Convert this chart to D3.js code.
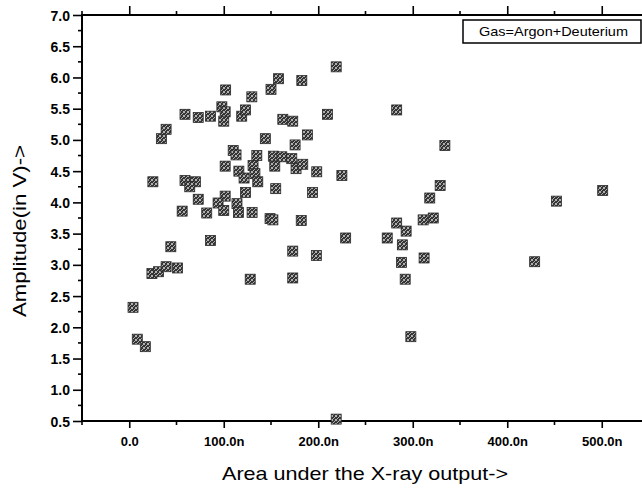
<!DOCTYPE html>
<html>
<head>
<meta charset="utf-8">
<script src="https://cdn.jsdelivr.net/npm/d3@7"></script>
<style>
  body { margin: 0; background: #fff; }
  svg { display: block; font-family: "Liberation Sans", Arial, sans-serif; }
</style>
</head>
<body>
<script>
// area under the X-ray output, in nano units
const areaN = [
  4, 8.5, 17, 24, 31, 39, 44, 51, 56, 25,
  34, 39, 59, 73, 86, 59, 70, 64, 73, 98,
  101.5, 100, 102, 119, 123, 110, 113, 101.5, 116, 121.5,
  123, 101.5, 94, 100, 114, 115.5, 130, 82, 149, 86,
  128, 131, 133, 136, 135, 129.7, 219, 158, 182.6, 150,
  209.7, 283, 162.5, 173, 188.5, 144, 175.5, 334, 152.5, 161.4,
  172, 154, 176.5, 183.6, 198.4, 225, 155, 194, 329, 318,
  152, 182, 283, 293, 311, 321.7, 229, 273, 289, 173,
  198, 288, 312, 173, 292, 298, 219, 501, 452, 429
];
// amplitude, volts
const amplitude = [
  2.32, 1.81, 1.69, 2.86, 2.89, 2.97, 3.29, 2.95, 3.86, 4.33,
  5.02, 5.17, 5.41, 5.36, 5.38, 4.35, 4.33, 4.25, 4.05, 5.53,
  5.45, 5.30, 5.80, 5.38, 5.48, 4.83, 4.76, 4.58, 4.50, 4.39,
  4.16, 4.10, 3.99, 3.87, 3.98, 3.84, 3.84, 3.83, 3.74, 3.39,
  2.77, 4.59, 4.46, 4.33, 4.75, 5.69, 6.17, 5.98, 5.95, 5.81,
  5.41, 5.48, 5.33, 5.30, 5.08, 5.02, 4.92, 4.91, 4.74, 4.73,
  4.70, 4.58, 4.54, 4.61, 4.49, 4.43, 4.22, 4.16, 4.27, 4.07,
  3.72, 3.71, 3.67, 3.54, 3.72, 3.75, 3.43, 3.43, 3.32, 3.22,
  3.15, 3.04, 3.11, 2.79, 2.77, 1.85, 0.53, 4.19, 4.02, 3.05
];
const xMajor = [0, 100, 200, 300, 400, 500];
const xMinor = [-50, 50, 150, 250, 350, 450, 550];
const yMajor = [0.5, 1.0, 1.5, 2.0, 2.5, 3.0, 3.5, 4.0, 4.5, 5.0, 5.5, 6.0, 6.5, 7.0];
const legendText = "Gas=Argon+Deuterium";

const width = 642, height = 490;
const mLeft = 82, mRight = 649, mTop = 15, mBottom = 421;

const x = d3.scaleLinear().domain([-50, 550]).range([mLeft, mRight]);
const y = d3.scaleLinear().domain([0.5, 7.0]).range([mBottom, mTop]);

const svg = d3.select("body").append("svg")
  .attr("width", width)
  .attr("height", height);

// speckled fill like the scanned markers
const pat = svg.append("defs").append("pattern")
  .attr("id", "speck")
  .attr("width", 4).attr("height", 4)
  .attr("patternUnits", "userSpaceOnUse");
pat.append("rect").attr("width", 4).attr("height", 4).attr("fill", "#353535");
[[0, 0], [2, 1], [1, 2], [3, 3], [3, 0], [0, 3]].forEach(([a, b]) => {
  pat.append("rect").attr("x", a).attr("y", b).attr("width", 1).attr("height", 1).attr("fill", "#b0b0b0");
});

// ticks
const yMinor = d3.range(0.75, 7.0, 0.5);

const bottomAxis = svg.append("g").attr("transform", `translate(0,${mBottom})`)
  .call(d3.axisBottom(x).tickValues(xMajor).tickSize(7).tickPadding(9)
    .tickFormat(d => d.toFixed(1) + (d === 0 ? "" : "n")));
bottomAxis.append("g").selectAll("line").data(xMinor).join("line")
  .attr("x1", d => x(d)).attr("x2", d => x(d)).attr("y1", 0).attr("y2", 4);

const topAxis = svg.append("g").attr("transform", `translate(0,${mTop})`)
  .call(d3.axisTop(x).tickValues(xMajor).tickSize(9).tickFormat(""));
topAxis.append("g").selectAll("line").data(xMinor).join("line")
  .attr("x1", d => x(d)).attr("x2", d => x(d)).attr("y1", 0).attr("y2", -4);

const leftAxis = svg.append("g").attr("transform", `translate(${mLeft},0)`)
  .call(d3.axisLeft(y).tickValues(yMajor).tickSize(9).tickPadding(3).tickFormat(d3.format(".1f")));
leftAxis.append("g").selectAll("line").data(yMinor).join("line")
  .attr("y1", d => y(d)).attr("y2", d => y(d)).attr("x1", 0).attr("x2", -4);

[bottomAxis, topAxis, leftAxis].forEach(g => {
  g.select(".domain").remove();
  g.selectAll("line").attr("stroke", "#000").attr("stroke-width", 1.6);
  g.selectAll("text").attr("fill", "#000").style("font-weight", "bold");
});
bottomAxis.selectAll(".tick text").style("font-size", "13px");
leftAxis.selectAll(".tick text").style("font-size", "14px").attr("dy", "0.36em");

// frame
svg.append("path")
  .attr("d", `M${mRight},${mTop}H${mLeft}V${mBottom}H${mRight}`)
  .attr("fill", "none").attr("stroke", "#000").attr("stroke-width", 2);

// points
svg.append("g").selectAll("rect")
  .data(areaN.map((d, i) => [d, amplitude[i]]))
  .join("rect")
  .attr("x", d => x(d[0]) - 5)
  .attr("y", d => y(d[1]) - 5)
  .attr("width", 10).attr("height", 10)
  .attr("fill", "url(#speck)")
  .attr("stroke", "#2a2a2a").attr("stroke-width", 0.8);

// legend
svg.append("rect")
  .attr("x", 463).attr("y", 20).attr("width", 178).attr("height", 23)
  .attr("fill", "#fff").attr("stroke", "#000").attr("stroke-width", 1.5);
svg.append("text")
  .attr("x", 479).attr("y", 36)
  .attr("textLength", 149).attr("lengthAdjust", "spacingAndGlyphs")
  .style("font-size", "13px")
  .text(legendText);

// axis titles
svg.append("text")
  .attr("x", 222).attr("y", 480)
  .attr("textLength", 286).attr("lengthAdjust", "spacingAndGlyphs")
  .style("font-size", "19px")
  .text("Area under the X-ray output->");

svg.append("text")
  .attr("transform", "translate(26,317) rotate(-90)")
  .attr("textLength", 172).attr("lengthAdjust", "spacingAndGlyphs")
  .style("font-size", "18px")
  .text("Amplitude(in V)->");
</script>
</body>
</html>
